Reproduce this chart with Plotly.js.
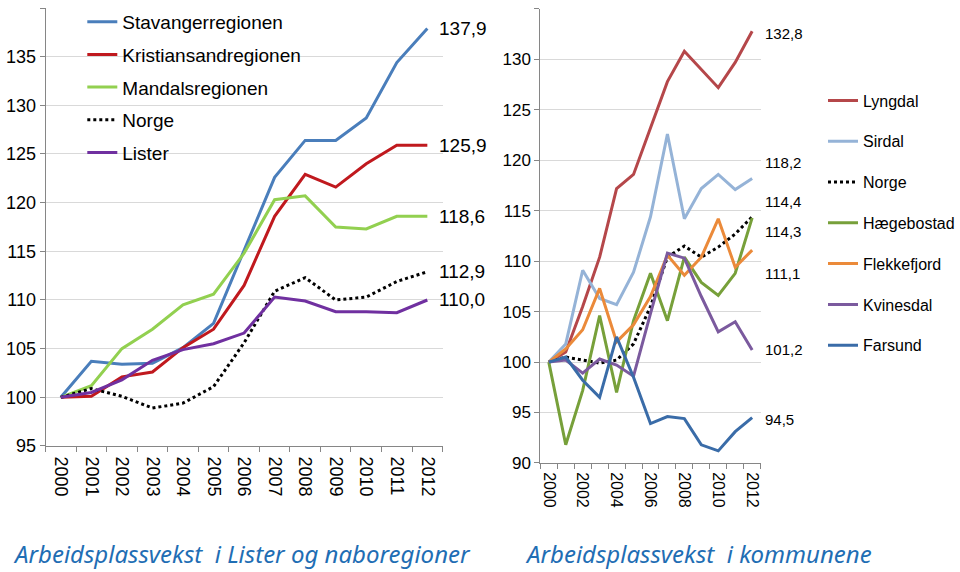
<!DOCTYPE html>
<html>
<head>
<meta charset="utf-8">
<script src="https://cdn.plot.ly/plotly-3.0.1.min.js"></script>
<style>html,body{margin:0;padding:0;background:#fff;}#chart{width:960px;height:572px;}</style>
</head>
<body>
<div id="chart"></div>
<script>
// ---- data ----
const years = [2000,2001,2002,2003,2004,2005,2006,2007,2008,2009,2010,2011,2012];

// Left chart: regions
const regionNames = ["Stavangerregionen","Kristiansandregionen","Mandalsregionen","Norge","Lister"];
const stavanger    = [100,103.7,103.4,103.5,105.1,107.6,115.1,122.6,126.4,126.4,128.7,134.4,137.9];
const kristiansand = [100,100.1,102.1,102.6,105.1,107.0,111.5,118.6,122.9,121.6,124.0,125.9,125.9];
const mandal       = [100,101.2,105.0,107.0,109.5,110.6,114.8,120.3,120.7,117.5,117.3,118.6,118.6];
const norgeLeft    = [100,100.9,100.1,98.9,99.4,101.1,105.6,110.9,112.3,110.0,110.3,111.9,112.9];
const lister       = [100,100.5,101.8,103.8,104.9,105.5,106.6,110.3,109.9,108.8,108.8,108.7,110.0];

// Right chart: municipalities
const kommuneNames = ["Lyngdal","Sirdal","Norge","Hægebostad","Flekkefjord","Kvinesdal","Farsund"];
const lyngdal     = [100,101.0,105.5,110.4,117.2,118.6,123.2,127.8,130.8,129.0,127.2,129.7,132.8];
const sirdal      = [100,101.8,109.1,106.3,105.7,108.9,114.4,122.6,114.2,117.2,118.6,117.1,118.2];
const norgeRight  = [100,100.5,100.2,99.9,100.2,101.8,105.5,110.4,111.5,110.4,111.4,112.7,114.4];
const haegebostad = [100,91.8,97.2,104.6,97.0,104.1,108.8,104.1,110.4,107.9,106.6,108.8,114.3];
const flekkefjord = [100,101.3,103.2,107.3,102.0,103.7,106.5,110.6,108.6,110.4,114.2,109.4,111.1];
const kvinesdal   = [100,100.2,98.9,100.3,99.7,98.6,104.8,110.8,110.3,106.5,103.0,104.0,101.2];
const farsund     = [100,100.5,98.2,96.5,102.5,98.5,93.9,94.6,94.4,91.8,91.2,93.1,94.5];

const leftTitle  = "Arbeidsplassvekst  i Lister og naboregioner";
const rightTitle = "Arbeidsplassvekst  i kommunene";

// ---- styling ----
const FONT = "'Liberation Sans', Arial, sans-serif";
const TFONT = "'Noto Sans', Lato, sans-serif";
const leftSeries  = [stavanger, kristiansand, mandal, norgeLeft, lister];
const leftColors  = ["#4A7EBB","#C0191E","#92D050","#000000","#7030A0"];
const rightSeries = [lyngdal, sirdal, norgeRight, haegebostad, flekkefjord, kvinesdal, farsund];
const rightColors = ["#B5474A","#95B3D7","#000000","#77A03A","#EB8A3A","#7B5A9E","#3A6CA8"];

const fmt = v => v.toFixed(1).replace(".", ",");
const traces = [];
leftSeries.forEach((s,i)=>{
  traces.push({
    x: years, y: s, name: regionNames[i], type: "scatter", mode: "lines",
    xaxis: "x", yaxis: "y", legend: "legend", legendgroup: "L"+i,
    line: {color: leftColors[i], width: 3, dash: regionNames[i]==="Norge" ? "dot" : "solid"},
    hoverinfo: "skip"
  });
});
rightSeries.forEach((s,i)=>{
  traces.push({
    x: years, y: s, name: kommuneNames[i], type: "scatter", mode: "lines",
    xaxis: "x2", yaxis: "y2", legend: "legend2", legendgroup: "R"+i,
    line: {color: rightColors[i], width: 3, dash: kommuneNames[i]==="Norge" ? "dot" : "solid"},
    hoverinfo: "skip"
  });
});

const annotations = [];
const last = years[years.length-1];
leftSeries.forEach((s,i)=>{
  annotations.push({x: last, y: s[s.length-1], xref:"x", yref:"y", text: fmt(s[s.length-1]),
    showarrow:false, xanchor:"left", xshift:10, font:{family:FONT, size:19, color:"#000"}});
});
const rightShift = [-2, 16, 15, -14, -23, 0, -2];
rightSeries.forEach((s,i)=>{
  annotations.push({x: last, y: s[s.length-1], xref:"x2", yref:"y2", text: fmt(s[s.length-1]),
    showarrow:false, xanchor:"left", xshift:11, yshift:rightShift[i], font:{family:FONT, size:15, color:"#000"}});
});
annotations.push({x:0.253, y:0.033, xref:"paper", yref:"paper", xanchor:"center", yanchor:"middle",
  text:leftTitle, showarrow:false,
  font:{family:TFONT, size:24, color:"#1F6EB4", style:"italic"}});
annotations.push({x:0.73, y:0.033, xref:"paper", yref:"paper", xanchor:"center", yanchor:"middle",
  text:rightTitle, showarrow:false,
  font:{family:TFONT, size:24, color:"#1F6EB4", style:"italic"}});

const axisCommon = {showline:true, linecolor:"#868686", linewidth:1, zeroline:false};
const layout = {
  width:960, height:572, margin:{l:0,r:0,t:0,b:0},
  paper_bgcolor:"#fff", plot_bgcolor:"#fff", showlegend:true,
  font:{family:FONT, color:"#000"},
  xaxis: Object.assign({}, axisCommon, {domain:[0.0476,0.4625], range:[1999.5,2012.5],
    tickmode:"array", tickvals:years, ticktext:years.map(String), ticks:"", tickangle:90,
    tickfont:{family:FONT, size:18}, showgrid:false, ticklabelstandoff:6,
    minor:{tick0:1999.5, dtick:1, ticks:"outside", ticklen:5, tickcolor:"#868686", showgrid:false},
    anchor:"y"}),
  yaxis: Object.assign({}, axisCommon, {domain:[0.2203,0.986], range:[95,140], dtick:5,
    ticks:"outside", ticklen:5, tickcolor:"#868686", tickfont:{family:FONT, size:18},
    showgrid:true, gridcolor:"#D9D9D9", anchor:"x"}),
  xaxis2: Object.assign({}, axisCommon, {domain:[0.5646,0.7948], range:[1999.5,2012.5],
    tickmode:"array", tickvals:years.filter(y=>y%2===0), ticktext:years.filter(y=>y%2===0).map(String),
    ticks:"", tickangle:90, tickfont:{family:FONT, size:16}, showgrid:false, ticklabelstandoff:5,
    minor:{tick0:1999.5, dtick:1, ticks:"outside", ticklen:5, tickcolor:"#868686", showgrid:false},
    anchor:"y2"}),
  yaxis2: Object.assign({}, axisCommon, {domain:[0.1906,0.9843], range:[90,135], dtick:5,
    ticks:"outside", ticklen:5, tickcolor:"#868686", tickfont:{family:FONT, size:17},
    showgrid:true, gridcolor:"#D9D9D9", anchor:"x2"}),
  legend:{x:0.086, y:0.995, xanchor:"left", yanchor:"top", bgcolor:"rgba(0,0,0,0)",
    font:{family:FONT, size:19, color:"#000"}, traceorder:"grouped", tracegroupgap:5},
  legend2:{x:0.860, y:0.854, xanchor:"left", yanchor:"top", bgcolor:"rgba(0,0,0,0)",
    font:{family:FONT, size:16, color:"#000"}, traceorder:"grouped", tracegroupgap:17},
  annotations: annotations
};
Plotly.newPlot("chart", traces, layout, {staticPlot:true});
</script>
</body>
</html>
